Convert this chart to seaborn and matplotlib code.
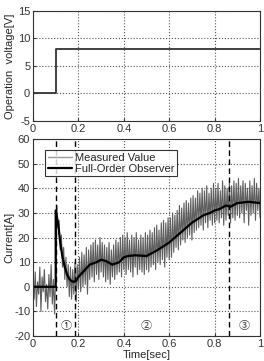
import numpy as np
import pandas as pd
import matplotlib
matplotlib.use('Agg')
import matplotlib.pyplot as plt
import seaborn as sns

sns.set_style('ticks')
plt.rcParams['font.family'] = ['Liberation Sans', 'Noto Sans CJK JP', 'DejaVu Sans']
plt.rcParams['font.size'] = 8
plt.rcParams['axes.unicode_minus'] = False
plt.rcParams['xtick.direction'] = 'in'
plt.rcParams['ytick.direction'] = 'in'

# 上图：操作电压
volt_t = [0, 0.1, 0.1, 1.0]
volt_v = [0, 0, 8, 8]

# 下图：实测电流（每 0.005 s 一个点，从图上估读）
meas_i = [
    3, -5, 6, -8, 2, -3, 8, -10, 4, -2, 7, -6, 1, -9, 5, -4, 9, -7, 3, -11, 6,
    33, 24, 27, 15, 21, 8, 16, 3, 12, 0, 9, -4, 8, -5, 7, -3, 10, -6, 9, -1,
    12, -2, 14, 0, 13, 1, 16, -3, 15, 3, 17, 4, 18, 2, 19, 5, 17, 3, 20, 6,
    18, 4, 17, 2, 16, 3, 18, 1, 15, 4, 17, 3, 19, 5, 18, 6, 20, 4, 21, 7,
    20, 5, 22, 7, 19, 6, 21, 4, 20, 8, 22, 5, 19, 7, 21, 6, 20, 5, 22, 7,
    21, 6, 23, 8, 22, 9, 24, 7, 25, 10, 23, 9, 26, 11, 27, 8, 26, 12, 28, 11,
    28, 12, 30, 14, 29, 16, 31, 15, 33, 17, 32, 19, 34, 18, 35, 20, 34, 21, 36, 19,
    37, 22, 36, 23, 39, 24, 38, 25, 40, 23, 39, 26, 41, 24, 38, 27, 40, 25, 42, 26,
    40, 27, 42, 26, 39, 28, 43, 25, 41, 27, 40, 29, 42, 26, 41, 28, 43, 27, 42, 29,
    44, 28, 41, 30, 43, 26, 42, 31, 40, 25, 43, 29, 41, 30, 44, 27, 42, 31, 40, 28,
]
meas_t = [round(k * 0.005, 3) for k in range(len(meas_i))]

# 全阶观测器估计值
obs_t = [0, 0.1, 0.1, 0.11, 0.12, 0.13, 0.14, 0.15, 0.16, 0.17, 0.18, 0.19, 0.2,
         0.22, 0.25, 0.28, 0.3, 0.32, 0.35, 0.38, 0.4, 0.42, 0.45, 0.5, 0.55,
         0.6, 0.65, 0.7, 0.75, 0.78, 0.8, 0.82, 0.85, 0.87, 0.9, 0.95, 1.0]
obs_i = [0, 0, 31, 26, 18, 12, 8, 5, 3.2, 2.3, 2, 2.5, 4,
         6, 9, 10, 11, 10.5, 9, 10, 12, 12.5, 12.8, 12.5, 15,
         18, 22, 26, 29, 30, 31, 31.5, 33, 32.5, 34, 34.5, 34]

# 区间分界线与标号
bounds = [0.1, 0.185, 0.865]
zone_x = [0.145, 0.5, 0.93]
zone_lbl = ['①', '②', '③']

fig = plt.figure(figsize=(2.64, 3.61), dpi=100)
ax1 = fig.add_axes([0.125, 0.665, 0.86, 0.305])
ax2 = fig.add_axes([0.125, 0.069, 0.86, 0.546])

sns.lineplot(x=volt_t, y=volt_v, ax=ax1, color='#333333', linewidth=1.3,
             estimator=None, sort=False)
ax1.set_xlim(0, 1)
ax1.set_ylim(-5, 15)
ax1.set_yticks([-5, 0, 5, 10, 15])
ax1.set_xticks([0, 0.2, 0.4, 0.6, 0.8, 1])
ax1.set_xticklabels(['0', '0.2', '0.4', '0.6', '0.8', '1'])
ax1.set_ylabel('Operation  voltage[V]', labelpad=2)

df_m = pd.DataFrame({'t': meas_t, 'i': meas_i})
df_o = pd.DataFrame({'t': obs_t, 'i': obs_i})
sns.lineplot(data=df_m, x='t', y='i', ax=ax2, color='#5e5e5e', linewidth=0.8,
             label='Measured Value', estimator=None, sort=False)
sns.lineplot(data=df_o, x='t', y='i', ax=ax2, color='black', linewidth=1.6,
             label='Full-Order Observer', estimator=None, sort=False)
for b in bounds:
    ax2.axvline(b, color='black', linestyle='--', linewidth=1.0, dashes=(4, 2.5))
for x, s in zip(zone_x, zone_lbl):
    ax2.text(x, -16, s, ha='center', va='center', fontsize=8, color='#333333')
ax2.set_xlim(0, 1)
ax2.set_ylim(-20, 60)
ax2.set_yticks(range(-20, 61, 10))
ax2.set_xticks([0, 0.2, 0.4, 0.6, 0.8, 1])
ax2.set_xticklabels(['0', '0.2', '0.4', '0.6', '0.8', '1'])
ax2.set_xlabel('Time[sec]', labelpad=1)
ax2.set_ylabel('Current[A]', labelpad=0)
leg = ax2.legend(loc='upper left', fontsize=8, frameon=True, fancybox=False,
                 borderpad=0.2, handlelength=2.2, handletextpad=0.3,
                 labelspacing=0.1, bbox_to_anchor=(0.03, 0.97))
leg.get_frame().set_edgecolor('black')
leg.get_frame().set_linewidth(0.8)
leg.get_lines()[0].set_color('#999999')
leg.get_lines()[0].set_linewidth(1.0)

for ax in (ax1, ax2):
    ax.grid(True, color='#555555', linestyle=':', linewidth=0.8)
    ax.tick_params(labelsize=8, length=2, pad=2, colors='#333333', labelcolor='#333333')
    for sp in ax.spines.values():
        sp.set_color('#333333')
        sp.set_linewidth(0.8)

fig.savefig('out.png', dpi=100)
